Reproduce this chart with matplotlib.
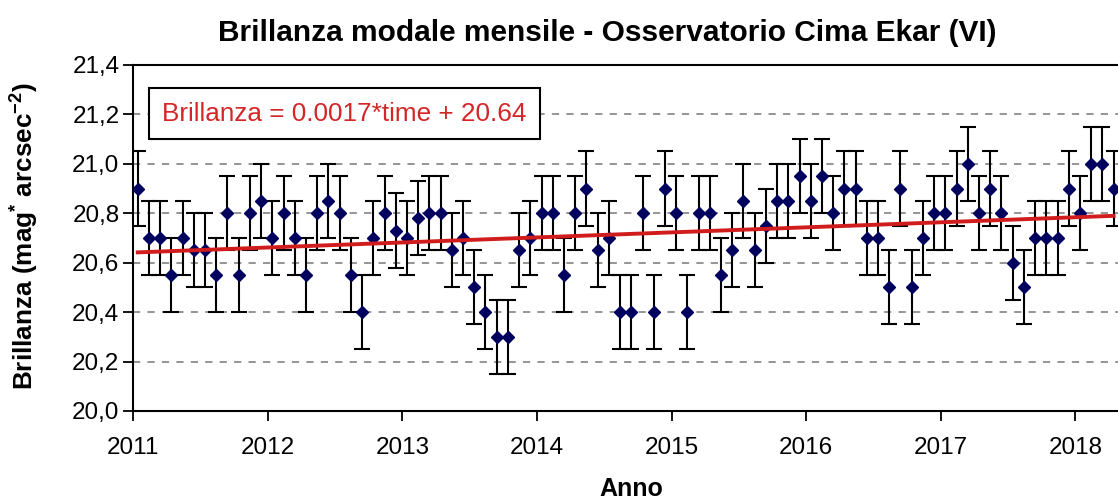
import numpy as np
import matplotlib.pyplot as plt

# brillanza modale mensile, da gennaio 2011 (un valore al mese)
anno_inizio = 2011
mese = np.arange(88)
brillanza = [20.9, 20.7, 20.7, 20.55, 20.7, 20.65, 20.65, 20.55, 20.8, 20.55, 20.8, 20.85,
             20.7, 20.8, 20.7, 20.55, 20.8, 20.85, 20.8, 20.55, 20.4, 20.7, 20.8, 20.73,
             20.7, 20.78, 20.8, 20.8, 20.65, 20.7, 20.5, 20.4, 20.3, 20.3, 20.65, 20.7,
             20.8, 20.8, 20.55, 20.8, 20.9, 20.65, 20.7, 20.4, 20.4, 20.8, 20.4, 20.9,
             20.8, 20.4, 20.8, 20.8, 20.55, 20.65, 20.85, 20.65, 20.75, 20.85, 20.85, 20.95,
             20.85, 20.95, 20.8, 20.9, 20.9, 20.7, 20.7, 20.5, 20.9, 20.5, 20.7, 20.8,
             20.8, 20.9, 21.0, 20.8, 20.9, 20.8, 20.6, 20.5, 20.7, 20.7, 20.7, 20.9,
             20.8, 21.0, 21.0, 20.9]
errore = 0.15

# retta di regressione: Brillanza = 0.0017*time + 20.64
pendenza = 0.0017
intercetta = 20.64

anni = [2011, 2012, 2013, 2014, 2015, 2016, 2017, 2018]
y_ticks = [20.0, 20.2, 20.4, 20.6, 20.8, 21.0, 21.2, 21.4]

plt.rcParams['font.family'] = ['Liberation Sans', 'DejaVu Sans']
plt.rcParams['mathtext.fontset'] = 'custom'
plt.rcParams['mathtext.bf'] = 'Liberation Sans:bold'
plt.rcParams['mathtext.default'] = 'bf'

x = anno_inizio + (mese + 0.4) / 12.0
trend = pendenza * (mese + 1) + intercetta

fig = plt.figure(figsize=(11.18, 4.99), dpi=100)
ax = fig.add_axes([0.1192, 0.1764, 1 - 0.1192, 0.6934])

# griglia orizzontale tratteggiata
for y in y_ticks[1:-1]:
    ax.axhline(y, color='#8c8c8c', lw=1.3, ls=(0, (4, 4)), zorder=1)

ax.errorbar(x, brillanza, yerr=errore, fmt='D', color='#00005e', ms=6.5,
            ecolor='black', elinewidth=1.5, capsize=5.5, capthick=1.5, zorder=3)
ax.plot(x, trend, color='#d01c1c', lw=2.8, zorder=4)

ax.set_xlim(anno_inizio, 2018.316)
ax.set_ylim(20.0, 21.4)
ax.set_xticks(anni)
ax.set_yticks(y_ticks)
ax.set_yticklabels([('%.1f' % v).replace('.', ',') for v in y_ticks])
ax.tick_params(direction='out', length=7, width=1.3, labelsize=17.5, pad=3)
ax.tick_params(axis='x', pad=12)

ax.spines['right'].set_visible(False)
for s in ['left', 'top', 'bottom']:
    ax.spines[s].set_linewidth(1.5)

ax.text(0.2144, 0.8596, 'Brillanza = 0.0017*time + 20.64', transform=ax.transAxes,
        ha='center', va='center', fontsize=18.8, color='#d42626', zorder=5,
        bbox=dict(boxstyle='square,pad=0.5', fc='white', ec='black', lw=1.5))

fig.text(607 / 1118, 0.934, 'Brillanza modale mensile - Osservatorio Cima Ekar (VI)',
         ha='center', va='center', fontsize=21.5, fontweight='bold')
fig.text(0.0224, 0.527, r'Brillanza (mag$^{*}$ arcsec$^{-2}$)', rotation=90,
         ha='center', va='center', fontsize=18.8, fontweight='bold')
fig.text(631 / 1118, 0.02, 'Anno', ha='center', va='center', fontsize=18, fontweight='bold')

fig.savefig('out.png', dpi=100)
